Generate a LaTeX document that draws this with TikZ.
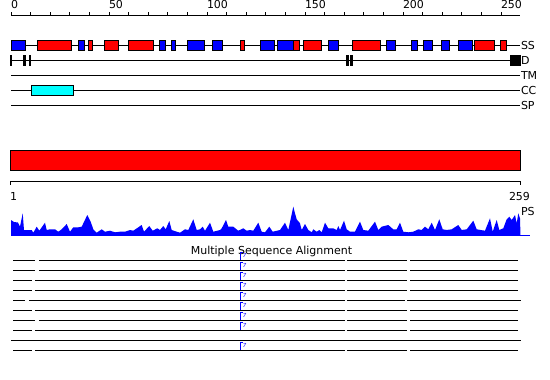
\documentclass[tikz,border=0pt]{standalone}
\usepackage{fontspec}
\setmainfont{DejaVu Sans}
\definecolor{cccyan}{RGB}{0,255,255}
\definecolor{ssred}{RGB}{255,0,0}
\definecolor{ssblue}{RGB}{0,0,255}
\begin{document}
\begin{tikzpicture}[x=1pt,y=-1pt,line width=1pt,
  lbl/.style={font=\fontsize{11}{12}\selectfont,inner sep=0pt},
  boxline/.style={draw=black,line width=0.9pt},
  msaline/.style={line width=1pt},
  insmark/.style={draw=ssblue,line width=0.8pt}]
\useasboundingbox (0,0) rectangle (550,380);
% ruler
\draw (11,15) -- (520,15);
\foreach \i in {0,...,25} \draw ({11+19.6*\i},15) -- ({11+19.6*\i},11.5);
\foreach \v/\n in {0/r0,50/r50,100/r100,150/r150,200/r200,250/r250}
  \node[lbl,anchor=base west] (\n) at ({10.5+1.96*\v},8.5) {\v};
% tracks
\foreach \yy in {45,75,90,105} \draw (11,\yy) -- (520,\yy);
\draw (11,60) -- (510,60);
% SS boxes
\foreach \c/\a/\b in {ssblue/11/25.7,ssred/37/71.3,ssblue/78.3/84.7,ssred/88.3/92.3,ssred/104.3/118.7,
  ssred/128.3/153.3,ssblue/159.3/165.7,ssblue/171/175.7,ssblue/187.3/204.3,ssblue/212.3/222.7,
  ssred/240.3/244.7,ssblue/260/274,ssblue/277/293.3,ssred/293.3/299.3,ssred/303.3/321.7,
  ssblue/328.3/338.7,ssred/352.3/380.7,ssblue/386/395.7,ssblue/411.3/417.7,ssblue/423/432,
  ssblue/441/449.7,ssblue/458.3/472.3,ssred/474/494.3,ssred/500.3/506.7}
  \filldraw[fill=\c,boxline] (\a,40.7) rectangle (\b,50);
% D marks
\fill (10.3,55) rectangle (12,66);
\fill (23.3,55) rectangle (25.5,66);
\fill (28.7,55) rectangle (31.3,66);
\fill (346,55) rectangle (348.7,66);
\fill (350,55) rectangle (352.7,66);
\fill (510,55) rectangle (520.7,65.7);
% CC
\filldraw[fill=cccyan,boxline] (31.3,85.3) rectangle (73.3,95.3);
% right labels
\node[lbl,anchor=west] (ss) at (520.5,45) {SS};
\node[lbl,anchor=west] (d) at (520.5,60) {D};
\node[lbl,anchor=west] (tm) at (520.5,75.5) {TM};
\node[lbl,anchor=west] (cc) at (520.5,90.5) {CC};
\node[lbl,anchor=west] (sp) at (520.5,105.5) {SP};
% red bar
\filldraw[fill=ssred,boxline] (10,150) rectangle (520,170.5);
\draw (10,181) -- (520,181);
\draw (10,181) -- (10,185);
\draw (520,181) -- (520,185);
\node[lbl,anchor=base west] (one) at (9.5,200) {1};
\node[lbl,anchor=base west] (end) at (508.5,200) {259};
\node[lbl,anchor=west] (ps) at (520.5,211) {PS};
% profile
\fill[ssblue] (11,235.5) -- (11,220) -- (14,222) -- (18,222.5) -- (20,226.7) -- (22.7,213.3) -- (24,230) -- (27,230) -- (31.7,230) -- (33.3,232.7) -- (36.7,226.7) -- (39.3,230.7) -- (45,222.7) -- (46.7,230) -- (50,229.3) -- (55,229.3) -- (58.3,231.7) -- (61.7,229.3) -- (66.7,224) -- (70,231.7) -- (73.3,227.3) -- (78.3,227.3) -- (81.7,226.7) -- (87.3,215) -- (90.7,221.7) -- (93.3,229.3) -- (96.7,232.7) -- (101.7,229.3) -- (105,231.7) -- (110,230.7) -- (115,232.3) -- (120,231.7) -- (125,231.7) -- (130,230) -- (133.3,230.7) -- (141.7,225) -- (144,231.7) -- (149.3,226) -- (152.7,230.7) -- (157.3,228.3) -- (160,230) -- (163.3,226) -- (165.7,229.3) -- (169.3,221) -- (171.7,230) -- (176.7,231.7) -- (180,232.7) -- (185,229.3) -- (188.3,230) -- (193.3,219.3) -- (196.7,230) -- (200,229.3) -- (202.7,226.7) -- (205,230.7) -- (210,222.7) -- (213.3,231.7) -- (220,230) -- (221.7,228.3) -- (226,220) -- (228.3,226.7) -- (233.3,226.7) -- (238.3,230.7) -- (243.3,228.3) -- (246.7,230.7) -- (250,230) -- (253.3,230.7) -- (258.3,222.7) -- (261.7,231.7) -- (265,232.3) -- (269.3,226.7) -- (272.7,231.7) -- (280,230) -- (285,222.7) -- (288.3,230) -- (293.3,206.7) -- (295,213.3) -- (296.7,219.3) -- (300,223.3) -- (301.7,230) -- (305,224) -- (308.3,230) -- (311.7,232.3) -- (313.3,229.3) -- (316.7,231.7) -- (319.3,230) -- (321.7,232.3) -- (325,222.7) -- (328.3,228.3) -- (333.3,228.3) -- (336.7,230) -- (338.3,226) -- (340,230) -- (344,220.7) -- (346.7,229.3) -- (350,231.7) -- (355,231.7) -- (360,221.7) -- (363.3,230) -- (368.3,230.7) -- (375,221.7) -- (378.3,230) -- (381.7,226.7) -- (388.3,225) -- (393.3,229.3) -- (396.7,229.3) -- (400,222.7) -- (403.3,231.7) -- (408.3,232.3) -- (413.3,231.7) -- (418.3,229.3) -- (421.7,230) -- (425,226.7) -- (428.3,229.3) -- (431.7,222.7) -- (435,230) -- (439.3,219.3) -- (442.7,229.3) -- (446.7,230) -- (451.7,229.3) -- (458.3,225) -- (461.7,230) -- (466.7,229.3) -- (473.3,220.7) -- (476.7,229.3) -- (480.7,230) -- (485,230.7) -- (490,218.3) -- (492.7,231.7) -- (496.7,220) -- (499.3,230) -- (503.3,228.3) -- (506.7,219.3) -- (509.3,216.7) -- (511.7,220) -- (515,215) -- (516.7,223.3) -- (518.3,213.3) -- (520,218.3) -- (520.5,235.5) -- cycle;
\draw[ssblue] (11,235.5) -- (530,235.5);
% MSA
\node[lbl,anchor=base] (msa) at (271.5,254.5) {Multiple Sequence Alignment};
\foreach \yy/\a/\b/\g/\h/\e in {260/35/39.3/407/410/518.3,270/35/39.3/407/410/518.3,
  280/31.7/35/407/410/518.3,290/31.7/35/407/410/518.3,300/25/29.3/405/407.3/520.7,
  310/31.7/35/407/410/518.3,320/35/39.3/407/410/518.3,330/31.7/35/407/410/518.3,
  350/31.7/35/407/410/518.3}{
  \draw[msaline] (13.3,\yy) -- (\a,\yy);
  \draw[msaline] (\b,\yy) -- (345,\yy);
  \draw[msaline] (347,\yy) -- (\g,\yy);
  \draw[msaline] (\h,\yy) -- (\e,\yy);
  \draw[insmark] (240.5,\yy) -- (240.5,{\yy-7.5}) -- (242.5,{\yy-7.5});
  \node[text=ssblue,font=\fontsize{5.5}{6}\selectfont\itshape,inner sep=0pt,anchor=base west] at (242.3,{\yy-2.5}) {7};
}
\draw[msaline] (11,340) -- (520.7,340);
\end{tikzpicture}
\end{document}
